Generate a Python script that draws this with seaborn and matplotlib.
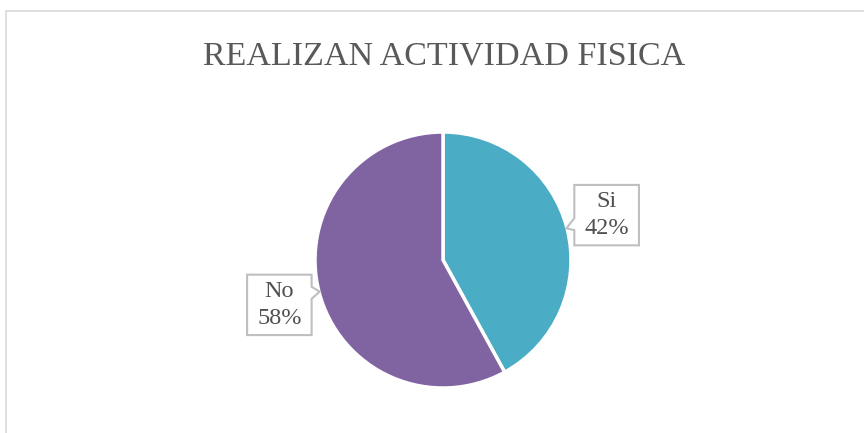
import matplotlib
matplotlib.use("Agg")
import matplotlib.pyplot as plt
import seaborn as sns
import numpy as np
from matplotlib.patches import Rectangle, Polygon
from matplotlib.transforms import IdentityTransform

categories = ["Si", "No"]
values = [42, 58]
title = "REALIZAN ACTIVIDAD FISICA"

sns.set_theme(style="white")
plt.rcParams['font.family'] = ['Liberation Serif', 'DejaVu Serif']
colors = ["#4BACC6", "#8064A2"]

W, H = 864, 433
fig = plt.figure(figsize=(W / 100, H / 100), dpi=100)
fig.patch.set_facecolor("white")

# outer chart border
fig.add_artist(Rectangle((6 / W, -0.05), 1.0, 1 - 11 / H + 0.05, transform=fig.transFigure,
                         fill=False, edgecolor="#D9D9D9", linewidth=1.2))

cx, cy, r = 443, 260, 128
ax = fig.add_axes([(cx - r) / W, (H - cy - r) / H, 2 * r / W, 2 * r / H])
wedges, _ = ax.pie(values, colors=colors, startangle=90, counterclock=False,
                   wedgeprops=dict(edgecolor="white", linewidth=2.5))
ax.set_xlim(-1, 1)
ax.set_ylim(-1, 1)
ax.set_aspect("equal")
ax.axis("off")

fig.text(444 / W, 1 - 56 / H, title, ha="center", va="center", fontsize=24.5, color="#595959")

total = sum(values)
texts = []
for w, cat, v in zip(wedges, categories, values):
    ang = np.deg2rad((w.theta1 + w.theta2) / 2)
    x, y = 1.32 * np.cos(ang), 1.41 * np.sin(ang)
    t = ax.text(x, y, f"{cat}\n{round(100 * v / total)}%", ha="center", va="center",
                fontsize=17.5, color="#505050", linespacing=1.4, zorder=5, clip_on=False)
    texts.append((t, ang))

fig.canvas.draw()
renderer = fig.canvas.get_renderer()
for t, ang in texts:
    bb = t.get_window_extent(renderer)
    px, py = 10, 6
    x0, x1 = bb.x0 - px, bb.x1 + px
    y0, y1 = bb.y0 - py, bb.y1 + py
    ex, ey = ax.transData.transform((0.995 * np.cos(ang), 0.995 * np.sin(ang)))
    if np.cos(ang) > 0:
        ym = y0 + (y1 - y0) * 0.35
        pts = [(x0, y0), (x0, ym - 6), (ex, ey), (x0, ym + 6), (x0, y1), (x1, y1), (x1, y0)]
    else:
        ym = y0 + (y1 - y0) * 0.70
        pts = [(x0, y0), (x0, y1), (x1, y1), (x1, ym + 6), (ex, ey), (x1, ym - 6), (x1, y0)]
    poly = Polygon(pts, closed=True, transform=IdentityTransform(), facecolor="white",
                   edgecolor="#BFBFBF", linewidth=1.5, zorder=4, clip_on=False)
    ax.add_artist(poly)

fig.savefig("out.png", dpi=100, facecolor="white")
